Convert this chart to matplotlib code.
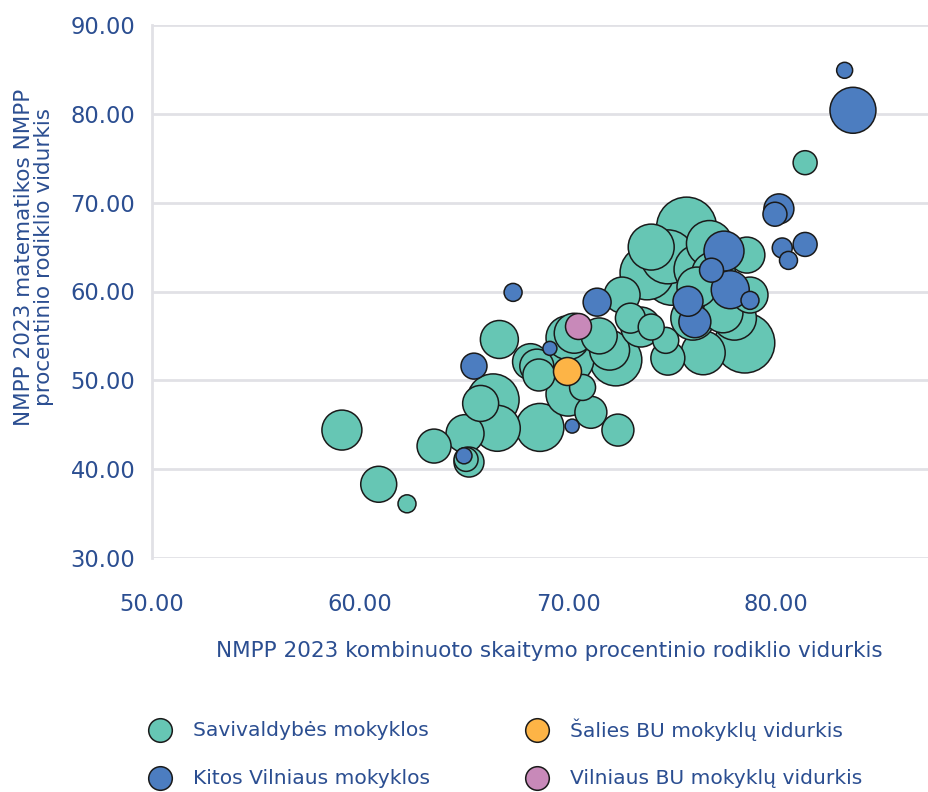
import matplotlib
matplotlib.use("Agg")
import matplotlib.pyplot as plt
from matplotlib.lines import Line2D
import numpy as np

plt.rcParams['font.family'] = ['DejaVu Sans']

# --- data ---
sav_x = [59.13, 60.9, 62.26, 81.4, 63.56, 65.05, 65.24, 65.1, 66.7, 66.6, 66.4, 65.8,
         68.65, 71.1, 72.4, 70.0, 68.6, 68.2, 68.5, 70.05, 72.0, 72.3, 70.3, 70.0,
         70.7, 72.6, 73.5, 74.0, 75.7, 76.8, 74.0, 74.8, 73.8, 75.0, 78.6, 78.75,
         78.5, 76.5, 74.8, 74.7, 77.45, 76.0, 73.0, 77.0, 76.2, 76.3, 78.0, 71.5]
sav_y = [44.4, 38.3, 36.1, 74.5, 42.6, 44.0, 40.8, 41.1, 54.6, 44.6, 47.8, 47.4,
         44.7, 46.4, 44.4, 48.45, 50.6, 52.1, 51.6, 52.4, 53.4, 52.3, 55.3, 54.8,
         49.2, 59.6, 56.0, 56.0, 67.25, 65.4, 65.0, 63.9, 62.1, 61.6, 64.1, 59.6,
         54.2, 53.1, 52.5, 54.5, 57.6, 57.0, 57.0, 62.0, 60.5, 62.5, 57.0, 55.0]
sav_size = [400, 324, 81, 144, 289, 361, 225, 144, 361, 529, 676, 324,
            576, 256, 256, 484, 256, 324, 289, 625, 400, 676, 400, 484,
            169, 324, 400, 169, 900, 529, 529, 729, 729, 784, 324, 324,
            900, 484, 289, 169, 400, 484, 225, 484, 400, 625, 484, 324]

kit_x = [83.3, 83.7, 80.14, 79.95, 80.3, 81.4, 80.6, 77.5, 77.8, 78.75, 75.77, 76.1,
         76.9, 71.4, 67.36, 65.48, 69.13, 70.2, 65.0]
kit_y = [84.9, 80.4, 69.3, 68.7, 64.9, 65.3, 63.5, 64.55, 60.2, 59.0, 58.9, 56.6,
         62.4, 58.8, 59.9, 51.6, 53.6, 44.85, 41.5]
kit_size = [64, 529, 225, 144, 100, 144, 81, 400, 361, 81, 225, 256,
            144, 196, 81, 169, 49, 49, 64]

salies_x = [69.95]
salies_y = [51.0]
salies_size = [196]

viln_x = [70.5]
viln_y = [56.1]
viln_size = [169]

x_ticks = [50, 60, 70, 80]
y_ticks = [30, 40, 50, 60, 70, 80, 90]

labels = ["Savivaldybės mokyklos", "Kitos Vilniaus mokyklos",
          "Šalies BU mokyklų vidurkis", "Vilniaus BU mokyklų vidurkis"]
colors = ["#66C6B4", "#4C7DC0", "#FDB446", "#C889B9"]
text_color = "#2B4E91"
grid_color = "#E1E1E6"

fig = plt.figure(figsize=(9.29, 7.92), dpi=100)
ax = fig.add_axes([152/929, 1-558/792, 777/929, (558-25)/792])

scale = 2.07  # px radius^2 -> points^2


def draw(xs, ys, ss, color, z):
    order = np.argsort(ss)[::-1]
    xs = np.asarray(xs)[order]
    ys = np.asarray(ys)[order]
    ss = np.asarray(ss)[order]
    ax.scatter(xs, ys, s=ss*scale, c=color, edgecolors="#1a1a1a",
               linewidths=1.1, zorder=z)


draw(sav_x, sav_y, sav_size, colors[0], 3)
draw(kit_x, kit_y, kit_size, colors[1], 4)
draw(salies_x, salies_y, salies_size, colors[2], 5)
draw(viln_x, viln_y, viln_size, colors[3], 6)

ax.set_xlim(50, 50 + 777/20.8)
ax.set_ylim(30, 90)
ax.set_xticks(x_ticks)
ax.set_yticks(y_ticks)
ax.set_xticklabels([f"{v:.2f}" for v in x_ticks])
ax.set_yticklabels([f"{v:.2f}" for v in y_ticks])
ax.tick_params(axis='both', length=0, labelsize=16.3, colors=text_color)
ax.tick_params(axis='x', pad=25)
ax.tick_params(axis='y', pad=12)
ax.yaxis.grid(True, color=grid_color, linewidth=2, zorder=0)
ax.set_axisbelow(True)
for sp in ["top", "right", "bottom"]:
    ax.spines[sp].set_visible(False)
ax.spines["left"].set_color(grid_color)
ax.spines["left"].set_linewidth(2)

fig.text(549/929, 1-651/792, "NMPP 2023 kombinuoto skaitymo procentinio rodiklio vidurkis",
         ha="center", va="center", fontsize=15.5, color=text_color)
fig.text(34/929, 1-257/792, "NMPP 2023 matematikos NMPP\nprocentinio rodiklio vidurkis",
         ha="center", va="center", rotation=90, fontsize=15.5, color=text_color,
         linespacing=1.05)

pos = [(160, 730), (160, 778), (537, 730), (537, 778)]
for (px, py), c, lab in zip(pos, colors, labels):
    fig.add_artist(Line2D([px/929], [1-py/792], marker='o', linestyle='', markersize=17,
                          markerfacecolor=c, markeredgecolor="#1a1a1a",
                          markeredgewidth=1.1, transform=fig.transFigure))
    fig.text((px+33)/929, 1-py/792, lab, ha="left", va="center",
             fontsize=14.6, color=text_color)

fig.savefig("out.png", dpi=100)
